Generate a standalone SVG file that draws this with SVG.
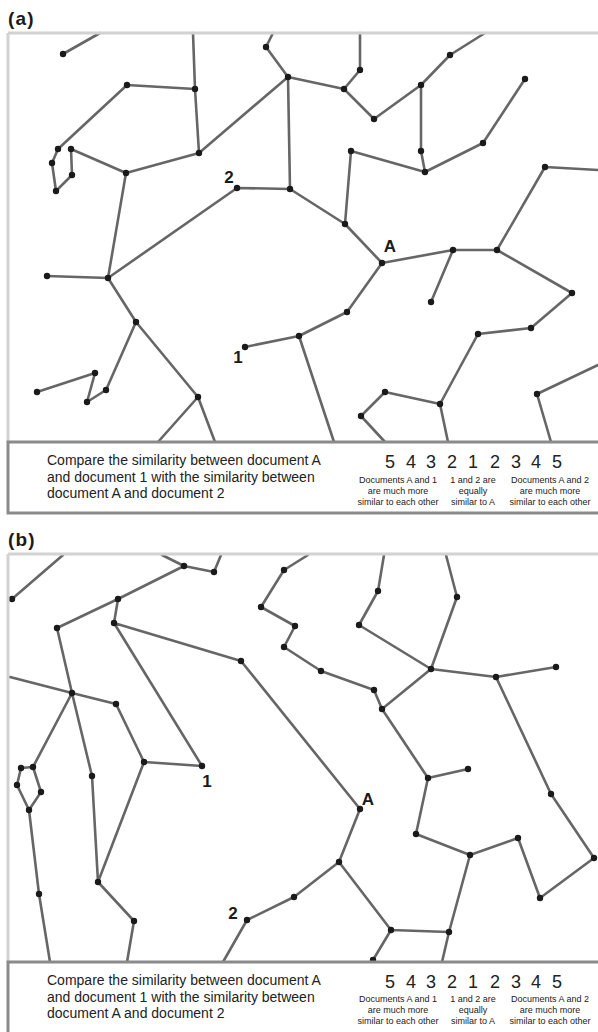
<svg xmlns="http://www.w3.org/2000/svg" width="598" height="1032" viewBox="0 0 598 1032">
<style>
.e{stroke:#666;stroke-width:2.6;fill:none;stroke-linecap:round}
.d{fill:#1a1a1a}
.fr{stroke:#d2d2d2;stroke-width:3;fill:none}
.ft{fill:#fff;stroke:#8a8a8a;stroke-width:3}
.pl{font-family:"Liberation Sans",Arial,sans-serif;font-weight:bold;font-size:19px;letter-spacing:1.2px;fill:#1a1a1a}
.lb{font-family:"Liberation Sans",Arial,sans-serif;font-weight:bold;font-size:17px;fill:#1a1a1a}
.q{font-family:"Liberation Sans",Arial,sans-serif;font-size:14px;fill:#222}
.n{font-family:"Liberation Sans",Arial,sans-serif;font-size:18px;fill:#222;text-anchor:middle}
.s{font-family:"Liberation Sans",Arial,sans-serif;font-size:9px;fill:#222;text-anchor:middle}
</style>
<rect width="598" height="1032" fill="#fff"/>

<!-- Panel (a) connectors -->
<g id="connectors-a">
<path class="e" d="M63,54L100,33 M193,33L195,89 M127,85L195,89 M195,89L199,153 M127,85L58,149 M58,149L52,163 M52,163L56,191 M56,191L72,175 M72,175L71,149 M71,149L126,173 M126,173L199,153 M199,153L288,77 M288,77L266,47 M266,47L273,33 M288,77L290,189 M237,188L290,189 M237,188L108,278 M126,173L108,278 M360,33L360,70 M360,70L344,89 M288,77L344,89 M344,89L374,119 M374,119L421,85 M421,85L450,55 M450,55L485,33 M421,85L421,151 M421,151L425,172 M425,172L351,151 M425,172L483,143 M483,143L525,79 M351,151L345,224 M290,189L345,224 M345,224L382,263 M382,263L453,250 M453,250L497,250 M497,250L545,167 M545,167L598,170 M453,250L431,302 M497,250L572,293 M572,293L531,328 M531,328L478,334 M478,334L440,404 M440,404L385,392 M385,392L361,416 M361,416L385,442 M440,404L448,442 M382,263L347,312 M347,312L299,336 M299,336L334,442 M598,365L537,394 M537,394L551,442 M108,278L47,276 M108,278L136,322 M136,322L198,397 M198,397L158,442 M198,397L215,442 M136,322L106,390 M106,390L87,402 M87,402L95,373 M95,373L37,392 M245,347L299,336"/>
</g>

<!-- Panel (b) connectors -->
<g id="connectors-b">
<path class="e" d="M63,555L12,599 M162,555L184,566 M184,566L214,572 M214,572L221,555 M184,566L118,599 M118,599L57,628 M118,599L114,623 M114,623L241,661 M241,661L360,809 M57,628L72,693 M10,677L72,693 M72,693L116,704 M116,704L144,762 M144,762L202,766 M114,623L202,766 M72,693L33,767 M72,693L92,776 M33,767L21,768 M21,768L17,785 M17,785L29,810 M33,767L41,792 M41,792L29,810 M29,810L39,894 M39,894L50,962 M92,776L98,882 M98,882L144,762 M98,882L134,921 M134,921L127,962 M247,920L223,962 M247,920L294,897 M294,897L339,862 M339,862L360,809 M339,862L391,930 M391,930L449,932 M391,930L373,960 M449,932L442,962 M449,932L470,855 M470,855L416,834 M470,855L518,838 M518,838L540,898 M540,898L594,858 M594,858L551,794 M551,794L496,677 M416,834L428,778 M428,778L468,769 M428,778L382,709 M384,555L378,591 M378,591L359,625 M359,625L431,669 M431,669L457,597 M457,597L446,555 M431,669L496,677 M496,677L556,667 M431,669L382,709 M382,709L374,690 M374,690L321,671 M321,671L284,647 M284,647L295,626 M295,626L261,607 M261,607L284,570 M284,570L308,555"/>
</g>

<!-- Panel (a) nodes -->
<g id="a-n1"><circle class="d" cx="63" cy="54" r="3.2"/></g>
<g id="a-n2"><circle class="d" cx="195" cy="89" r="3.2"/></g>
<g id="a-n3"><circle class="d" cx="127" cy="85" r="3.2"/></g>
<g id="a-n4"><circle class="d" cx="199" cy="153" r="3.2"/></g>
<g id="a-n5"><circle class="d" cx="58" cy="149" r="3.2"/></g>
<g id="a-n6"><circle class="d" cx="52" cy="163" r="3.2"/></g>
<g id="a-n7"><circle class="d" cx="56" cy="191" r="3.2"/></g>
<g id="a-n8"><circle class="d" cx="72" cy="175" r="3.2"/></g>
<g id="a-n9"><circle class="d" cx="71" cy="149" r="3.2"/></g>
<g id="a-n10"><circle class="d" cx="126" cy="173" r="3.2"/></g>
<g id="a-n11"><circle class="d" cx="288" cy="77" r="3.2"/></g>
<g id="a-n12"><circle class="d" cx="266" cy="47" r="3.2"/></g>
<g id="a-n13"><circle class="d" cx="290" cy="189" r="3.2"/></g>
<g id="a-doc2"><circle class="d" cx="237" cy="188" r="3.2"/><text class="lb" x="229" y="183" text-anchor="middle">2</text></g>
<g id="a-n15"><circle class="d" cx="108" cy="278" r="3.2"/></g>
<g id="a-n16"><circle class="d" cx="360" cy="70" r="3.2"/></g>
<g id="a-n17"><circle class="d" cx="344" cy="89" r="3.2"/></g>
<g id="a-n18"><circle class="d" cx="374" cy="119" r="3.2"/></g>
<g id="a-n19"><circle class="d" cx="421" cy="85" r="3.2"/></g>
<g id="a-n20"><circle class="d" cx="450" cy="55" r="3.2"/></g>
<g id="a-n21"><circle class="d" cx="421" cy="151" r="3.2"/></g>
<g id="a-n22"><circle class="d" cx="425" cy="172" r="3.2"/></g>
<g id="a-n23"><circle class="d" cx="351" cy="151" r="3.2"/></g>
<g id="a-n24"><circle class="d" cx="483" cy="143" r="3.2"/></g>
<g id="a-n25"><circle class="d" cx="525" cy="79" r="3.2"/></g>
<g id="a-n26"><circle class="d" cx="345" cy="224" r="3.2"/></g>
<g id="a-docA"><circle class="d" cx="382" cy="263" r="3.2"/><text class="lb" x="390" y="252" text-anchor="middle">A</text></g>
<g id="a-n28"><circle class="d" cx="453" cy="250" r="3.2"/></g>
<g id="a-n29"><circle class="d" cx="497" cy="250" r="3.2"/></g>
<g id="a-n30"><circle class="d" cx="545" cy="167" r="3.2"/></g>
<g id="a-n31"><circle class="d" cx="431" cy="302" r="3.2"/></g>
<g id="a-n32"><circle class="d" cx="572" cy="293" r="3.2"/></g>
<g id="a-n33"><circle class="d" cx="531" cy="328" r="3.2"/></g>
<g id="a-n34"><circle class="d" cx="478" cy="334" r="3.2"/></g>
<g id="a-n35"><circle class="d" cx="440" cy="404" r="3.2"/></g>
<g id="a-n36"><circle class="d" cx="385" cy="392" r="3.2"/></g>
<g id="a-n37"><circle class="d" cx="361" cy="416" r="3.2"/></g>
<g id="a-n38"><circle class="d" cx="347" cy="312" r="3.2"/></g>
<g id="a-n39"><circle class="d" cx="299" cy="336" r="3.2"/></g>
<g id="a-n40"><circle class="d" cx="537" cy="394" r="3.2"/></g>
<g id="a-n41"><circle class="d" cx="47" cy="276" r="3.2"/></g>
<g id="a-n42"><circle class="d" cx="136" cy="322" r="3.2"/></g>
<g id="a-n43"><circle class="d" cx="198" cy="397" r="3.2"/></g>
<g id="a-n44"><circle class="d" cx="106" cy="390" r="3.2"/></g>
<g id="a-n45"><circle class="d" cx="87" cy="402" r="3.2"/></g>
<g id="a-n46"><circle class="d" cx="95" cy="373" r="3.2"/></g>
<g id="a-n47"><circle class="d" cx="37" cy="392" r="3.2"/></g>
<g id="a-doc1"><circle class="d" cx="245" cy="347" r="3.2"/><text class="lb" x="238" y="363" text-anchor="middle">1</text></g>

<!-- Panel (b) nodes -->
<g id="b-n1"><circle class="d" cx="12" cy="599" r="3.2"/></g>
<g id="b-n2"><circle class="d" cx="184" cy="566" r="3.2"/></g>
<g id="b-n3"><circle class="d" cx="214" cy="572" r="3.2"/></g>
<g id="b-n4"><circle class="d" cx="118" cy="599" r="3.2"/></g>
<g id="b-n5"><circle class="d" cx="57" cy="628" r="3.2"/></g>
<g id="b-n6"><circle class="d" cx="114" cy="623" r="3.2"/></g>
<g id="b-n7"><circle class="d" cx="241" cy="661" r="3.2"/></g>
<g id="b-n8"><circle class="d" cx="72" cy="693" r="3.2"/></g>
<g id="b-n9"><circle class="d" cx="116" cy="704" r="3.2"/></g>
<g id="b-n10"><circle class="d" cx="144" cy="762" r="3.2"/></g>
<g id="b-doc1"><circle class="d" cx="202" cy="766" r="3.2"/><text class="lb" x="207" y="787" text-anchor="middle">1</text></g>
<g id="b-n12"><circle class="d" cx="33" cy="767" r="3.2"/></g>
<g id="b-n13"><circle class="d" cx="21" cy="768" r="3.2"/></g>
<g id="b-n14"><circle class="d" cx="17" cy="785" r="3.2"/></g>
<g id="b-n15"><circle class="d" cx="41" cy="792" r="3.2"/></g>
<g id="b-n16"><circle class="d" cx="29" cy="810" r="3.2"/></g>
<g id="b-n17"><circle class="d" cx="92" cy="776" r="3.2"/></g>
<g id="b-n18"><circle class="d" cx="39" cy="894" r="3.2"/></g>
<g id="b-n19"><circle class="d" cx="98" cy="882" r="3.2"/></g>
<g id="b-n20"><circle class="d" cx="134" cy="921" r="3.2"/></g>
<g id="b-doc2"><circle class="d" cx="247" cy="920" r="3.2"/><text class="lb" x="233" y="919" text-anchor="middle">2</text></g>
<g id="b-n22"><circle class="d" cx="294" cy="897" r="3.2"/></g>
<g id="b-n23"><circle class="d" cx="339" cy="862" r="3.2"/></g>
<g id="b-docA"><circle class="d" cx="360" cy="809" r="3.2"/><text class="lb" x="368" y="805" text-anchor="middle">A</text></g>
<g id="b-n25"><circle class="d" cx="391" cy="930" r="3.2"/></g>
<g id="b-n26"><circle class="d" cx="449" cy="932" r="3.2"/></g>
<g id="b-n27"><circle class="d" cx="373" cy="960" r="3.2"/></g>
<g id="b-n28"><circle class="d" cx="470" cy="855" r="3.2"/></g>
<g id="b-n29"><circle class="d" cx="416" cy="834" r="3.2"/></g>
<g id="b-n30"><circle class="d" cx="518" cy="838" r="3.2"/></g>
<g id="b-n31"><circle class="d" cx="540" cy="898" r="3.2"/></g>
<g id="b-n32"><circle class="d" cx="594" cy="858" r="3.2"/></g>
<g id="b-n33"><circle class="d" cx="551" cy="794" r="3.2"/></g>
<g id="b-n34"><circle class="d" cx="496" cy="677" r="3.2"/></g>
<g id="b-n35"><circle class="d" cx="428" cy="778" r="3.2"/></g>
<g id="b-n36"><circle class="d" cx="468" cy="769" r="3.2"/></g>
<g id="b-n37"><circle class="d" cx="382" cy="709" r="3.2"/></g>
<g id="b-n38"><circle class="d" cx="378" cy="591" r="3.2"/></g>
<g id="b-n39"><circle class="d" cx="359" cy="625" r="3.2"/></g>
<g id="b-n40"><circle class="d" cx="431" cy="669" r="3.2"/></g>
<g id="b-n41"><circle class="d" cx="457" cy="597" r="3.2"/></g>
<g id="b-n42"><circle class="d" cx="556" cy="667" r="3.2"/></g>
<g id="b-n43"><circle class="d" cx="374" cy="690" r="3.2"/></g>
<g id="b-n44"><circle class="d" cx="321" cy="671" r="3.2"/></g>
<g id="b-n45"><circle class="d" cx="284" cy="570" r="3.2"/></g>
<g id="b-n46"><circle class="d" cx="261" cy="607" r="3.2"/></g>
<g id="b-n47"><circle class="d" cx="295" cy="626" r="3.2"/></g>
<g id="b-n48"><circle class="d" cx="284" cy="647" r="3.2"/></g>

<!-- Frames -->
<g id="frame-a">
<path class="fr" d="M8,33H598 M8,33V442"/>
<rect class="ft" x="8" y="442" width="595" height="71"/>
</g>
<g id="frame-b">
<path class="fr" d="M8,554H598 M8,554V962"/>
<rect class="ft" x="8" y="962" width="595" height="80"/>
</g>

<!-- Panel labels -->
<text class="pl" x="8" y="25">(a)</text>
<text class="pl" x="8" y="546">(b)</text>

<!-- Footer (a) -->
<g id="footer-a-text">
<text class="q" x="47" y="465">Compare the similarity between document A</text>
<text class="q" x="47" y="482">and document 1 with the similarity between</text>
<text class="q" x="47" y="498">document A and document 2</text>
<text class="n" x="390" y="468">5</text><text class="n" x="411" y="468">4</text><text class="n" x="431" y="468">3</text><text class="n" x="452" y="468">2</text><text class="n" x="473" y="468">1</text><text class="n" x="495" y="468">2</text><text class="n" x="516" y="468">3</text><text class="n" x="536" y="468">4</text><text class="n" x="557" y="468">5</text>
<text class="s" x="398" y="483">Documents A and 1</text>
<text class="s" x="398" y="494">are much more</text>
<text class="s" x="398" y="505">similar to each other</text>
<text class="s" x="473" y="483">1 and 2 are</text>
<text class="s" x="473" y="494">equally</text>
<text class="s" x="473" y="505">similar to A</text>
<text class="s" x="550" y="483">Documents A and 2</text>
<text class="s" x="550" y="494">are much more</text>
<text class="s" x="550" y="505">similar to each other</text>
</g>

<!-- Footer (b) -->
<g id="footer-b-text">
<text class="q" x="47" y="985">Compare the similarity between document A</text>
<text class="q" x="47" y="1002">and document 1 with the similarity between</text>
<text class="q" x="47" y="1018">document A and document 2</text>
<text class="n" x="390" y="988">5</text><text class="n" x="411" y="988">4</text><text class="n" x="431" y="988">3</text><text class="n" x="452" y="988">2</text><text class="n" x="473" y="988">1</text><text class="n" x="495" y="988">2</text><text class="n" x="516" y="988">3</text><text class="n" x="536" y="988">4</text><text class="n" x="557" y="988">5</text>
<text class="s" x="398" y="1002">Documents A and 1</text>
<text class="s" x="398" y="1013">are much more</text>
<text class="s" x="398" y="1024">similar to each other</text>
<text class="s" x="473" y="1002">1 and 2 are</text>
<text class="s" x="473" y="1013">equally</text>
<text class="s" x="473" y="1024">similar to A</text>
<text class="s" x="550" y="1002">Documents A and 2</text>
<text class="s" x="550" y="1013">are much more</text>
<text class="s" x="550" y="1024">similar to each other</text>
</g>
</svg>
